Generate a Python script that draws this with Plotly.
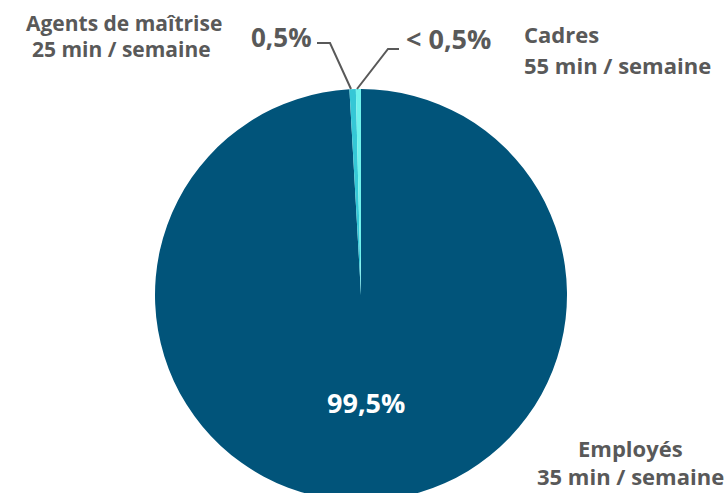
import plotly.graph_objects as go

# ---- data ----
categories = ["Employés", "Agents de maîtrise", "Cadres"]
values = [99.5, 0.5, 0.4]
pct_labels = ["99,5%", "0,5%", "< 0,5%"]
durations = ["35 min / semaine", "25 min / semaine", "55 min / semaine"]
colors = ["#01547A", "#35C7D6", "#6EF2EC"]

W, H = 727, 510
GRAY = "#595959"
FONT = "Open Sans"

def px(x):
    return x / W

def py(y):
    return 1 - y / H

fig = go.Figure(go.Pie(
    labels=categories,
    values=values,
    marker=dict(colors=colors, line=dict(width=0)),
    sort=False,
    direction="clockwise",
    rotation=0,
    textinfo="none",
    hoverinfo="label+percent",
    showlegend=False,
    domain=dict(x=[px(155), px(567)], y=[py(501), py(89)]),
))

def ann(x, y, text, size, color=GRAY, xanchor="center"):
    fig.add_annotation(x=px(x), y=py(y), xref="paper", yref="paper", text=text,
                       showarrow=False, xanchor=xanchor, yanchor="middle",
                       font=dict(family=FONT, size=size, color=color, weight="bold"))

ann(124, 23, categories[1], 21)
ann(121, 49, durations[1], 21)
ann(522, 34, categories[2], 22, xanchor="left")
ann(522, 65, durations[2], 22, xanchor="left")
ann(630, 448, categories[0], 22)
ann(630, 476, durations[0], 22)
ann(281, 37, pct_labels[1], 26)
ann(448, 39, pct_labels[2], 27)
ann(366, 402, pct_labels[0], 27, color="white")

# leader lines
def seg(pts):
    path = "M " + " L ".join(f"{px(a)},{py(b)}" for a, b in pts)
    fig.add_shape(type="path", path=path, xref="paper", yref="paper",
                  line=dict(color=GRAY, width=2))

seg([(317, 43), (330, 43), (351, 89)])
seg([(399, 49), (388, 49), (357, 89)])

fig.update_layout(width=W, height=H, margin=dict(l=0, r=0, t=0, b=0),
                  paper_bgcolor="white", plot_bgcolor="white")

fig.write_html("out.html", config={"displayModeBar": False},
               post_script="document.body.style.margin='0';document.body.style.overflow='hidden';")
